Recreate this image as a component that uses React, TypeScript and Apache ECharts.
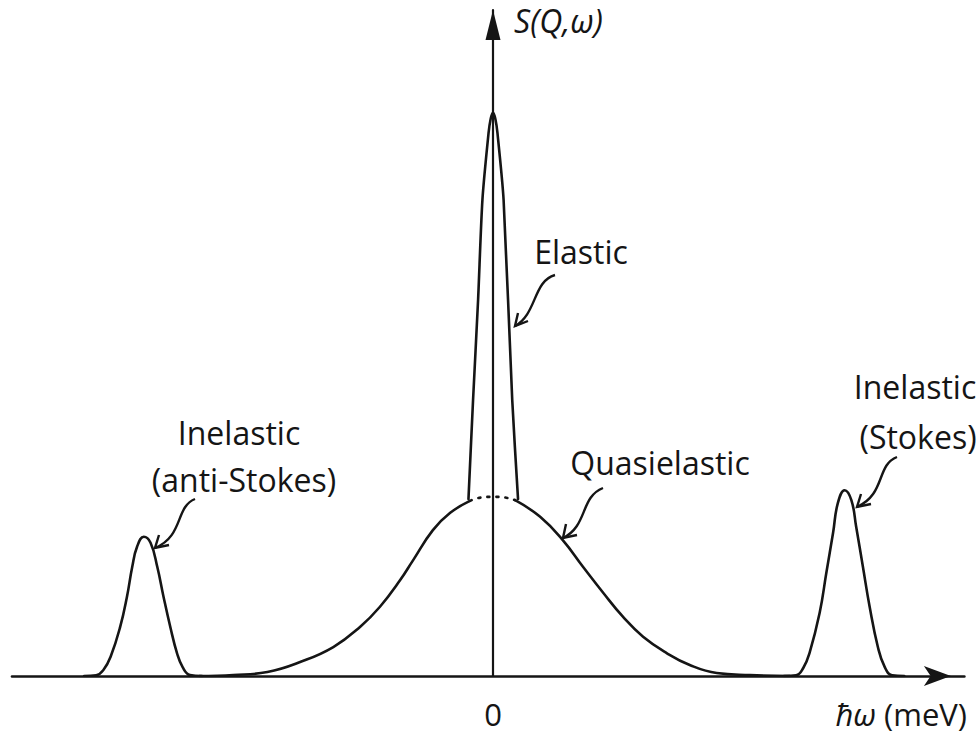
import React, { useEffect, useRef } from "react";
import * as echarts from "echarts";

const FONT = '"Open Sans", "Noto Sans", sans-serif';
const INK = "#151515";

// Energy transfer (arbitrary meV units) and intensity S(Q,ω) (arbitrary units)
const quasiLeftX = [-6.1, -5.4, -4.69, -4.01, -3.32, -2.76, -2.35, -1.93, -1.66, -1.25, -0.89, -0.48];
const quasiLeftY = [0, 0.15, 0.6, 2.1, 4.35, 7.4, 10.4, 14.4, 17.4, 21.9, 24.5, 26.3];
const quasiTopX = [-0.48, -0.25, 0, 0.25, 0.46];
const quasiTopY = [26.3, 26.8, 26.9, 26.8, 26.4];
const quasiRightX = [0.46, 0.98, 1.45, 1.87, 2.29, 2.7, 3.12, 3.61, 4.09, 4.65, 5.34, 6.17];
const quasiRightY = [26.4, 23.9, 20.4, 16.4, 12.5, 8.9, 5.9, 3.45, 1.65, 0.45, 0.15, 0];

const elasticX = [-0.51, -0.415, -0.31, -0.22, -0.093, -0.05, 0, 0.05, 0.093, 0.22, 0.4, 0.52];
const elasticY = [26.6, 41.4, 56.5, 71.5, 81.5, 83.6, 84.6, 83.6, 81.5, 71.5, 41.4, 26.6];

const antiStokesX = [-8.5, -8.25, -8.1, -7.95, -7.75, -7.61, -7.5, -7.4, -7.26, -7.12, -6.98, -6.85, -6.71, -6.57, -6.45, -6.3, -6.05];
const antiStokesY = [0, 0.1, 0.9, 2.9, 7.4, 11.9, 16.4, 19.4, 20.9, 20.0, 16.4, 11.9, 7.4, 3.45, 1.3, 0.15, 0];

const stokesX = [6.05, 6.3, 6.45, 6.58, 6.79, 6.93, 7.07, 7.17, 7.31, 7.45, 7.55, 7.69, 7.83, 8.0, 8.14, 8.3, 8.55];
const stokesY = [0, 0.1, 1.2, 3.45, 9.46, 15.5, 21.5, 26.0, 27.9, 26.4, 22.4, 16.4, 10.4, 4.4, 1.4, 0.1, 0];

const xTickLabels = [0];

const zip = (xs: number[], ys: number[]) => xs.map((x, i) => [x, ys[i]]);

function arrow(p0: number[], p1: number[], p2: number[], p3: number[], w1: number[], w2: number[]) {
  return [
    {
      type: "bezierCurve",
      shape: { x1: p0[0], y1: p0[1], cpx1: p1[0], cpy1: p1[1], cpx2: p2[0], cpy2: p2[1], x2: p3[0], y2: p3[1] },
      style: { stroke: INK, lineWidth: 2.4, fill: null },
      silent: true,
    },
    {
      type: "polyline",
      shape: { points: [w1, p3, w2] },
      style: { stroke: INK, lineWidth: 2.4, fill: null },
      silent: true,
    },
  ];
}

function label(text: string, x: number, y: number, align = "center", italic = false) {
  return {
    type: "text",
    x,
    y,
    silent: true,
    style: {
      text,
      fill: INK,
      fontFamily: FONT,
      fontSize: 32,
      lineHeight: 34,
      fontStyle: italic ? "italic" : "normal",
      align,
      verticalAlign: "middle",
    },
  };
}

export default function App() {
  const ref = useRef<HTMLDivElement>(null);
  useEffect(() => {
    if (!ref.current) return;
    const chart = echarts.init(ref.current, undefined, { renderer: "svg" });
    const line = (name: string, data: number[][], dotted = false, smooth: number = 0.45) => ({
      name,
      type: "line",
      data,
      smooth,
      showSymbol: false,
      symbol: "none",
      silent: true,
      lineStyle: { color: INK, width: 2.6, type: dotted ? [2, 7] : "solid", cap: "round" },
      z: 3,
    });
    chart.setOption({
      animation: false,
      backgroundColor: "#ffffff",
      grid: { left: 12, right: 14.6, top: 10, bottom: 59 },
      xAxis: {
        type: "value",
        min: -10,
        max: 9.8,
        interval: 10,
        splitLine: { show: false },
        axisTick: { show: false },
        axisLine: {
          onZero: false,
          lineStyle: { color: INK, width: 2.6 },
          symbol: ["none", "arrow"],
          symbolSize: [15, 27],
          symbolOffset: [0, -13.5],
        },
        axisLabel: {
          customValues: xTickLabels,
          formatter: (v: number) => String(v),
          color: INK,
          fontFamily: FONT,
          fontSize: 31,
          lineHeight: 28,
          margin: 24,
        },
      },
      yAxis: {
        type: "value",
        min: 0,
        max: 100,
        splitLine: { show: false },
        axisTick: { show: false },
        axisLabel: { show: false },
        axisLine: {
          onZero: true,
          lineStyle: { color: INK, width: 2.2 },
          symbol: ["none", "triangle"],
          symbolSize: [15, 30],
          symbolOffset: [0, -15],
        },
      },
      series: [
        line("Quasielastic left", zip(quasiLeftX, quasiLeftY)),
        line("Quasielastic top", zip(quasiTopX, quasiTopY), true),
        line("Quasielastic right", zip(quasiRightX, quasiRightY)),
        line("Elastic", zip(elasticX, elasticY), false, 0.25),
        line("Inelastic (anti-Stokes)", zip(antiStokesX, antiStokesY)),
        line("Inelastic (Stokes)", zip(stokesX, stokesY)),
      ],
      graphic: [
        label("S(Q,ω)", 514, 20, "left", true),
        {
          type: "text",
          x: 967,
          y: 714,
          silent: true,
          style: {
            text: "{i|ħω} (meV)",
            fill: INK,
            fontFamily: FONT,
            fontSize: 31,
            lineHeight: 28,
            align: "right",
            verticalAlign: "middle",
            rich: { i: { fontStyle: "italic", fontFamily: FONT, fontSize: 31, lineHeight: 28, fill: INK } },
          },
        },
        label("Elastic", 581, 251),
        label("Quasielastic", 660, 462),
        label("Inelastic", 239, 432),
        label("(anti-Stokes)", 244, 479),
        label("Inelastic", 915, 386),
        label("(Stokes)", 918, 436),
        ...arrow([555, 275], [533, 281], [537, 314], [515, 326], [518, 313], [528, 321]),
        ...arrow([603, 488], [580, 497], [588, 526], [563, 538], [566, 524], [577, 535]),
        ...arrow([195, 499], [175, 507], [184, 536], [155, 548], [159, 535], [169, 545]),
        ...arrow([897, 457], [876, 465], [886, 494], [857, 507], [861, 494], [871, 504]),
      ],
    });
    return () => chart.dispose();
  }, []);
  return (
    <div
      ref={ref}
      style={{ position: "absolute", left: 0, top: 0, width: 979, height: 735, background: "#fff" }}
    />
  );
}
